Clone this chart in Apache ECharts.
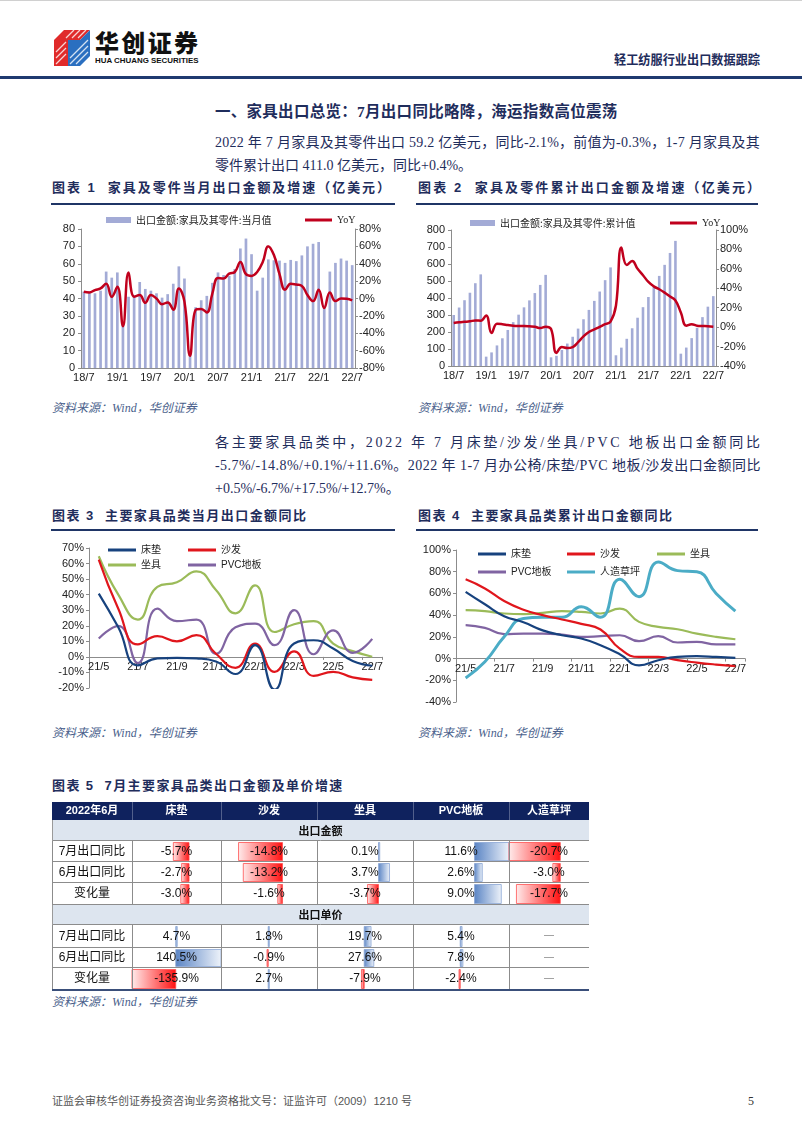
<!DOCTYPE html>
<html><head><meta charset="utf-8">
<script src="https://cdn.jsdelivr.net/npm/echarts@6/dist/echarts.min.js"></script>
<style>
html,body{margin:0;padding:0;background:#fff;}
body{width:802px;height:1133px;position:relative;overflow:hidden;font-family:"Liberation Serif","Noto Sans CJK SC",serif;}
.t{position:absolute;white-space:nowrap;transform-origin:0 50%;}
.cap{font-family:"Liberation Sans","Noto Sans CJK SC",sans-serif;font-weight:bold;font-size:13px;color:#1f2d5c;}
.rule{position:absolute;height:2px;background:#1f3566;}
.src{font-style:italic;font-size:12px;color:#4a5f8c;}
.p{font-size:14px;color:#1f2d5c;}
.ch{position:absolute;}
</style></head>
<body>
<div style="position:absolute;left:0;top:0;width:802px;height:1px;background:#d0d0d0"></div>
<svg style="position:absolute;left:52px;top:28px" width="40" height="40" viewBox="0 0 40 40">
  <polygon points="2,12 12,2 38,2 28,12" fill="#e02a2a"/>
  <polygon points="2,12 16,12 16,38 2,38" fill="#e02a2a"/>
  <polygon points="16,12 28,12 38,2 38,28 28,38 16,38" fill="#2a6fc0"/>
  <g stroke="#fff" stroke-width="1.2" opacity="0.8">
    <line x1="4" y1="36" x2="14" y2="26"/><line x1="4" y1="30" x2="14" y2="20"/><line x1="4" y1="24" x2="14" y2="14"/>
    <line x1="14" y1="10" x2="22" y2="2"/><line x1="20" y1="10" x2="28" y2="2"/><line x1="26" y1="10" x2="34" y2="2"/>
    <line x1="18" y1="36" x2="36" y2="18"/><line x1="18" y1="30" x2="36" y2="12"/><line x1="24" y1="36" x2="36" y2="24"/>
  </g>
</svg>
<div class="t" id="logoCn" data-w="103" style="left:95px;top:30px;height:24px;line-height:24px;font-family:'Noto Sans CJK SC';font-weight:900;font-size:24px;color:#111">华创证券</div>
<div class="t" id="logoEn" data-w="104" style="left:95px;top:56px;height:9px;line-height:9px;font-family:'Liberation Sans';font-weight:bold;font-size:8px;color:#111">HUA CHUANG SECURITIES</div>
<div class="t cap" data-w="146" style="left:614px;top:50px;height:18px;line-height:18px;font-family:'Noto Sans CJK SC'">轻工纺服行业出口数据跟踪</div>
<div style="position:absolute;left:0;top:76px;width:802px;height:3px;background:#1f3a70"></div>

<div class="t" data-w="402" style="left:215px;top:102px;height:20px;line-height:20px;font-weight:bold;font-size:15.5px;color:#1f2d5c">一、家具出口总览：7月出口同比略降，海运指数高位震荡</div>
<div class="t p" data-w="545" style="left:215px;top:133px;height:20px;line-height:20px">2022 年 7 月家具及其零件出口 59.2 亿美元，同比-2.1%，前值为-0.3%，1-7 月家具及其</div>
<div class="t p" style="left:215px;top:156px;height:20px;line-height:20px">零件累计出口 411.0 亿美元，同比+0.4%。</div>

<div class="t cap" data-w="338" style="left:52px;top:179px;height:18px;line-height:18px">图表 1&nbsp;&nbsp;家具及零件当月出口金额及增速（亿美元）</div>
<div class="t cap" data-w="342" style="left:418px;top:179px;height:18px;line-height:18px">图表 2&nbsp;&nbsp;家具及零件累计出口金额及增速（亿美元）</div>
<div class="rule" style="left:51px;top:203px;width:344px"></div>
<div class="rule" style="left:416px;top:203px;width:342px"></div>
<div class="ch" id="c1" style="left:40px;top:205px;width:360px;height:190px"></div>
<div class="ch" id="c2" style="left:410px;top:205px;width:380px;height:190px"></div>
<div class="t src" style="left:52px;top:400px;height:16px;line-height:16px">资料来源：Wind，华创证券</div>
<div class="t src" style="left:418px;top:400px;height:16px;line-height:16px">资料来源：Wind，华创证券</div>

<div class="t p" data-w="545" style="left:215px;top:433px;height:20px;line-height:20px">各主要家具品类中，2022 年 7 月床垫/沙发/坐具/PVC 地板出口金额同比</div>
<div class="t p" data-w="545" style="left:215px;top:456px;height:20px;line-height:20px">-5.7%/-14.8%/+0.1%/+11.6%。2022 年 1-7 月办公椅/床垫/PVC 地板/沙发出口金额同比</div>
<div class="t p" style="left:215px;top:479px;height:20px;line-height:20px">+0.5%/-6.7%/+17.5%/+12.7%。</div>

<div class="t cap" data-w="254" style="left:52px;top:507px;height:18px;line-height:18px">图表 3&nbsp;&nbsp;主要家具品类当月出口金额同比</div>
<div class="t cap" data-w="254" style="left:418px;top:507px;height:18px;line-height:18px">图表 4&nbsp;&nbsp;主要家具品类累计出口金额同比</div>
<div class="rule" style="left:51px;top:529px;width:344px"></div>
<div class="rule" style="left:416px;top:529px;width:342px"></div>
<div class="ch" id="c3" style="left:40px;top:531px;width:360px;height:169px"></div>
<div class="ch" id="c4" style="left:410px;top:531px;width:370px;height:179px"></div>
<div class="t src" style="left:52px;top:725px;height:16px;line-height:16px">资料来源：Wind，华创证券</div>
<div class="t src" style="left:418px;top:725px;height:16px;line-height:16px">资料来源：Wind，华创证券</div>

<div class="t cap" data-w="290" style="left:52px;top:777px;height:18px;line-height:18px">图表 5&nbsp;&nbsp;7月主要家具品类出口金额及单价增速</div>
<div class="ch" id="c5" style="left:52px;top:802px;width:537px;height:189px"></div>
<div class="t src" style="left:52px;top:994px;height:16px;line-height:16px">资料来源：Wind，华创证券</div>

<div class="t" style="left:52px;top:1093px;height:16px;line-height:16px;font-size:11px;color:#555;font-family:'Liberation Sans','Noto Sans CJK SC'">证监会审核华创证券投资咨询业务资格批文号：证监许可（2009）1210 号</div>
<div class="t" style="left:748px;top:1093px;height:16px;line-height:16px;font-size:12px;color:#333">5</div>

<script>
// ---------- DATA ----------
const months = ['18/7','18/8','18/9','18/10','18/11','18/12','19/1','19/2','19/3','19/4','19/5','19/6','19/7','19/8','19/9','19/10','19/11','19/12','20/1','20/2','20/3','20/4','20/5','20/6','20/7','20/8','20/9','20/10','20/11','20/12','21/1','21/2','21/3','21/4','21/5','21/6','21/7','21/8','21/9','21/10','21/11','21/12','22/1','22/2','22/3','22/4','22/5','22/6','22/7'];
const monthlyValue = [44,44,43,44.5,55.5,52, 55,25,41,42,49.5,45.5, 44.5,43,40.5,42.5,48.5,58.5, 51.5,10,35,39,41.5,49, 55,53.5,53,57,68.8,74.5, 65.5,44.5,52,62.5,62,61.8, 60.5,62.2,61.5,64.8,70,71.5, 72.5,36,55.5,60.5,63,61.8, 59.2];
const monthlyYoY = [7.8,7,9.7,11.6,17,2, 13.5,-32,30,2,4,-5, 4,0,-6.5,-4.5,-13,11.6, -3.6,-66,-13,-12,-16,6, 23.5,23,28.6,30.5,42,28, 26,30.5,42,60,50,28, 10,17,16,14.5,4,-3, 10,-11,7,-3,0,-0.3, -2.1];
const cumValue = [300,344,387,431,487,539, 55,80,121,163,212,258, 302,345,386,429,477,536, 51,60,94,132,172,220, 275,330,383,438,505,580, 63,108,160,222,284,346, 406,469,530,595,665,736, 72.5,108.5,164,224.5,287.5,349, 411];
const cumYoY = [4.2,5,5.5,6,6.9,6.6, 12,-6,3.5,3,2.2,1.5, 1.2,1.1,0.8,0.4,-1,0.4, -2,-26.5,-20.5,-21.5,-20.5,-15.5, -9.5,-5,-2.4,0.3,3,5.8, 22,82,64,68,60,53.5, 46.5,42,39,35.5,31.5,27.5, 15,1.5,3,1.5,1.2,0.9, 0.4];
const barNameMonthly = '出口金额:家具及其零件:当月值';
const barNameCum = '出口金额:家具及其零件:累计值';
const lineName = 'YoY';

const catMonths = ['21/5','21/6','21/7','21/8','21/9','21/10','21/11','21/12','22/1','22/2','22/3','22/4','22/5','22/6','22/7'];
const names = ['床垫','沙发','坐具','PVC地板','人造草坪'];
const m_mattress = [40.7,19,-5.4,-1,-0.6,-1,-3,-11,7.5,-21,8.6,10.7,5.4,-2.7,-5.7];
const m_sofa     = [62.5,31,8,13.3,10,14,2,-7,8.5,-9.6,3.6,-12.2,-9.6,-13.2,-14.8];
const m_seat     = [64.7,40,24,45,48,55,43,28,46,16,21,23,8.6,3.7,0.1];
const m_pvc      = [11.8,20,-4,31,23,24,2,19,21.4,7.5,30,1.7,17,2.6,11.6];
const c_mattress = [61.5,50,39,33.5,26,21.5,18.5,12.3,4,-6.2,-1.5,1.5,2.2,1.5,0.6];
const c_sofa     = [73,64.6,53,45,40,36,32,26.8,9.2,1.5,1.5,-1.5,-3.7,-5.5,-7];
const c_seat     = [44.6,43.7,41.5,41,42,43.7,43,41.5,46,33.8,29.2,27,23,20,17.8];
const c_pvc      = [30.8,28.3,22.5,23,23,22,20,20.6,21.5,16,20.6,14.8,15.4,13,13];
const c_turf     = [-17.8,-3,20,37,38,38,47.7,38,73,57,89,81,80,60,43.7];

const tableCorner = '2022年6月';
const tableCols = ['床垫','沙发','坐具','PVC地板','人造草坪'];
const sectionNames = ['出口金额','出口单价'];
const rowLabels = ['7月出口同比','6月出口同比','变化量'];
const amountJul = [-5.7,-14.8,0.1,11.6,-20.7];
const amountJun = [-2.7,-13.2,3.7,2.6,-3.0];
const amountChg = [-3.0,-1.6,-3.7,9.0,-17.7];
const priceJul  = [4.7,1.8,19.7,5.4,null];
const priceJun  = [140.5,-0.9,27.6,7.8,null];
const priceChg  = [-135.9,2.7,-7.9,-2.4,null];

// ---------- text fitting ----------
document.querySelectorAll('[data-w]').forEach(el=>{
  const target = +el.dataset.w;
  const w = el.scrollWidth;
  const n = el.textContent.length;
  if (w < target && n > 1) { el.style.letterSpacing = ((target - w)/(n-1)) + 'px'; }
  else if (w > target) { el.style.transform = 'scaleX(' + (target/w) + ')'; }
});

const AX = '#8c8c8c';
const lab = {fontSize:11,color:'#222',fontFamily:'Liberation Sans'};
const legTxt = {fontSize:10,color:'#222',fontFamily:'Noto Sans CJK SC'};

function dualChart(el, barName, barData, lineData, leftMax, leftInt, rMin, rMax, rInt, grid, legPos){
  const ch = echarts.init(document.getElementById(el), null, {renderer:'canvas'});
  ch.setOption({
    animation:false,
    grid:grid,
    legend:[
      {data:[barName], left:legPos[0], top:legPos[2], icon:'rect', itemWidth:25, itemHeight:6, itemGap:5, textStyle:legTxt, selectedMode:false},
      {data:[lineName], left:legPos[1], top:legPos[2], icon:'rect', itemWidth:27, itemHeight:3, textStyle:Object.assign({},legTxt,{fontFamily:'Liberation Serif'}), selectedMode:false}
    ],
    xAxis:{type:'category', data:months, boundaryGap:true,
      axisLine:{lineStyle:{color:AX}},
      axisTick:{interval:(i)=>i%6===0, alignWithLabel:true, length:3, lineStyle:{color:AX}},
      axisLabel:Object.assign({interval:(i)=>i%6===0, margin:4},lab)},
    yAxis:[
      {type:'value', min:0, max:leftMax, interval:leftInt, splitLine:{show:false},
        axisLine:{show:true,lineStyle:{color:AX}}, axisTick:{show:true,length:3,lineStyle:{color:AX}},
        axisLabel:Object.assign({margin:6},lab)},
      {type:'value', min:rMin, max:rMax, interval:rInt, position:'right', splitLine:{show:false},
        axisLine:{show:true,lineStyle:{color:AX}}, axisTick:{show:true,length:3,lineStyle:{color:AX}},
        axisLabel:Object.assign({margin:4, formatter:'{value}%'},lab)}
    ],
    series:[
      {name:barName, type:'bar', data:barData, barWidth:'48%', itemStyle:{color:'#a3abd6'}},
      {name:lineName, type:'line', yAxisIndex:1, data:lineData, smooth:0.45, showSymbol:false,
        lineStyle:{color:'#c0001d', width:2.5}, itemStyle:{color:'#c0001d'}, z:5}
    ]
  });
}
dualChart('c1', barNameMonthly, monthlyValue, monthlyYoY, 80, 10, -80, 80, 20,
  {left:41, right:45, top:24, bottom:27}, [61, 260, 5]);
dualChart('c2', barNameCum, cumValue, cumYoY, 800, 100, -40, 100, 20,
  {left:41, right:74, top:25, bottom:29}, [55, 255, 8]);

const colors = {'床垫':'#17427e','沙发':'#e0161c','坐具':'#9bbb59','PVC地板':'#8064a2','人造草坪':'#4bacc6'};
function lineChart(el, series, yMin, yMax, yInt, grid, legends, boxH){
  const ch = echarts.init(document.getElementById(el));
  // move the category axis (line + labels) up to the zero level
  const plotH = boxH - grid.top - grid.bottom;
  const zeroUp = plotH * (0 - yMin) / (yMax - yMin);
  ch.setOption({
    animation:false,
    grid:grid,
    legend: legends.map(l=>({data:[l[0]], left:l[1], top:l[2], icon:'rect', itemWidth:28, itemHeight:3, itemGap:4,
      textStyle:{fontSize:10,color:'#222',fontFamily:'Liberation Sans, Noto Sans CJK SC'}, selectedMode:false})),
    xAxis:{type:'category', data:catMonths, boundaryGap:true, offset:-zeroUp,
      axisLine:{onZero:false, lineStyle:{color:AX}},
      axisTick:{show:true, length:3, lineStyle:{color:AX}},
      axisLabel:Object.assign({interval:1, margin:5},lab)},
    yAxis:{type:'value', min:yMin, max:yMax, interval:yInt, splitLine:{show:false},
      axisLine:{show:true,lineStyle:{color:AX}}, axisTick:{show:true,length:3,lineStyle:{color:AX}},
      axisLabel:Object.assign({margin:5, formatter:'{value}%'},lab)},
    series: series.map(s=>({name:s[0], type:'line', data:s[1], smooth:0.5, showSymbol:false,
      lineStyle:{color:colors[s[0]], width:s[0]==='人造草坪'?3:2.2}, itemStyle:{color:colors[s[0]]}}))
  });
}
lineChart('c3', [[names[2],m_seat],[names[3],m_pvc],[names[1],m_sofa],[names[0],m_mattress]], -20, 70, 10,
  {left:49, right:18, top:17, bottom:12},
  [[names[0],63,9],[names[1],143,9],[names[2],63,24],[names[3],143,24]], 169);
lineChart('c4', [[names[2],c_seat],[names[3],c_pvc],[names[4],c_turf],[names[1],c_sofa],[names[0],c_mattress]], -40, 100, 20,
  {left:46, right:35, top:19, bottom:8},
  [[names[0],63,13],[names[1],152,13],[names[2],242,13],[names[3],63,31],[names[4],152,31]], 179);

// ---------- table (custom series) ----------
(function(){
  const colEdges=[0,80,169,265,361,457,537];
  const rowEdges=[0,18,39,60,81,103,123,146,166,188];
  const sections=[[amountJul,amountJun,amountChg],[priceJul,priceJun,priceChg]];
  const cells=[];
  cells.push({r:0,c:0,kind:'head',text:tableCorner});
  tableCols.forEach((t,i)=>cells.push({r:0,c:i+1,kind:'head',text:t}));
  sections.forEach((rows,s)=>{
    const all=[].concat(...rows).filter(v=>v!==null);
    const lo=Math.min(0,...all), hi=Math.max(0,...all);
    const r0 = s===0?1:5;
    cells.push({r:r0,c:0,c2:6,kind:'sec',text:sectionNames[s]});
    rows.forEach((vals,k)=>{
      cells.push({r:r0+1+k,c:0,kind:'label',text:rowLabels[k]});
      vals.forEach((v,i)=>cells.push({r:r0+1+k,c:i+1,kind:'val',v:v,lo:lo,hi:hi}));
    });
  });
  const ch = echarts.init(document.getElementById('c5'));
  ch.setOption({
    animation:false,
    grid:{left:0,right:0,top:0,bottom:1},
    xAxis:{type:'value',min:0,max:537,show:false},
    yAxis:{type:'value',min:0,max:188,inverse:true,show:false},
    series:[{type:'custom', clip:false, data:cells.map((c,i)=>[i,0]),
      renderItem:function(params,api){
        const cell=cells[params.dataIndex];
        const x0=colEdges[cell.c], x1=colEdges[cell.c2!==undefined?cell.c2:cell.c+1];
        const y0=rowEdges[cell.r], y1=rowEdges[cell.r+1];
        const tl=api.coord([x0,y0]), br=api.coord([x1,y1]);
        const w=br[0]-tl[0], h=br[1]-tl[1];
        const cx=tl[0]+w/2, cy=tl[1]+h/2;
        const ch=[];
        const txt=(t,opt)=>Object.assign({type:'text',z2:10,style:{text:t,x:cx,y:cy,align:'center',verticalAlign:'middle',textAlign:'center',textVerticalAlign:'middle',font:'12px "Liberation Sans","Noto Sans CJK SC"',fill:'#111'}},opt||{});
        if(cell.kind==='head'){
          ch.push({type:'rect',shape:{x:tl[0],y:tl[1],width:w,height:h},style:{fill:'#0f225e'}});
          if(cell.c>0) ch.push({type:'line',shape:{x1:tl[0]+0.5,y1:tl[1],x2:tl[0]+0.5,y2:br[1]},style:{stroke:'#52608c',lineWidth:1}});
          const t=txt(cell.text); t.style.font='bold 11px "Liberation Sans","Noto Sans CJK SC"'; t.style.fill='#fff'; ch.push(t);
        } else if(cell.kind==='sec'){
          ch.push({type:'rect',shape:{x:tl[0],y:tl[1],width:w,height:h},style:{fill:'#dde5ef'}});
          ch.push({type:'line',shape:{x1:tl[0],y1:br[1]-0.5,x2:br[0],y2:br[1]-0.5},style:{stroke:'#8c8c8c',lineWidth:1}});
          ch.push({type:'line',shape:{x1:tl[0]+0.5,y1:tl[1],x2:tl[0]+0.5,y2:br[1]},style:{stroke:'#9a9a9a',lineWidth:1}});
          const t=txt(cell.text); t.style.font='bold 11px "Noto Sans CJK SC"'; ch.push(t);
        } else {
          ch.push({type:'rect',shape:{x:tl[0],y:tl[1],width:w,height:h},style:{fill:'#fff'}});
          if(cell.kind==='val'){
            if(cell.v===null){
              ch.push(txt('—',{style:{text:'—',x:cx,y:cy-1,align:'center',verticalAlign:'middle',font:'10px "Liberation Sans"',fill:'#888'}}));
            } else {
              const pos=v=>tl[0]+(v-cell.lo)/(cell.hi-cell.lo)*w;
              const ax=pos(0), ex=pos(cell.v);
              const neg=cell.v<0;
              let bx=Math.min(ax,ex), bw=Math.max(Math.abs(ex-ax),1.2);
              if(neg && Math.abs(ex-ax)<1.2) bx=ax-1.2;
              const col=neg?'#ff1010':'#5a84c4';
              const fade=neg?'#ffecec':'#eef3fa';
              ch.push({type:'rect',shape:{x:bx,y:tl[1]+1.5,width:bw,height:h-3},
                style:{fill:{type:'linear',x:0,y:0,x2:1,y2:0,colorStops:neg?[{offset:0,color:fade},{offset:1,color:col}]:[{offset:0,color:col},{offset:1,color:fade}]},
                  stroke:neg?'#ff5050':'#8aa6d4',lineWidth:0.8}});
              ch.push(txt(cell.v.toFixed(1)+'%'));
            }
          } else {
            ch.push(txt(cell.text));
          }
          ch.push({type:'line',shape:{x1:tl[0]+0.5,y1:tl[1],x2:tl[0]+0.5,y2:br[1]},style:{stroke:'#8c8c8c',lineWidth:1}});
          ch.push({type:'line',shape:{x1:tl[0],y1:br[1]-0.5,x2:br[0],y2:br[1]-0.5},style:{stroke:'#8c8c8c',lineWidth:1}});
        }
        if(cell.r===8) ch.push({type:'line',shape:{x1:tl[0],y1:br[1],x2:br[0],y2:br[1]},style:{stroke:'#3a4f7a',lineWidth:2}});
        return {type:'group',children:ch};
      }}]
  });
})();
</script>
</body></html>
